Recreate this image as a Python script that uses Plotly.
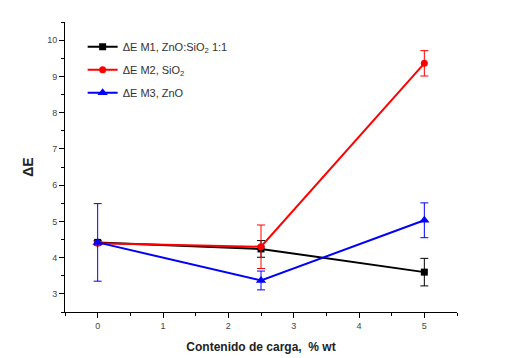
import plotly.graph_objects as go

x_vals = [0, 2.5, 5]
m1_vals = [4.42, 4.24, 3.6]
m1_err = [0.05, 0.23, 0.38]
m2_vals = [4.4, 4.3, 9.36]
m2_err = [0.05, 0.6, 0.35]
m3_vals = [4.42, 3.37, 5.03]
m3_err = [1.07, 0.26, 0.48]

names = ["ΔE M1, ZnO:SiO<sub>2</sub> 1:1", "ΔE M2, SiO<sub>2</sub>", "ΔE M3, ZnO"]
colors = ["#000000", "#ff0000", "#0000ff"]
symbols = ["square", "circle", "triangle-up"]
sizes = [7, 7, 9]

fig = go.Figure()
for i, (vals, err, name, c, s, sz) in enumerate(zip([m1_vals, m2_vals, m3_vals], [m1_err, m2_err, m3_err], names, colors, symbols, sizes)):
    fig.add_trace(go.Scatter(
        x=x_vals, y=vals, name=name, mode="lines+markers", legendgroup=f"g{i}",
        line=dict(color=c, width=2),
        marker=dict(symbol=s, size=sz, color=c),
        error_y=dict(type="data", array=err, visible=True, color=c, thickness=1, width=4),
    ))

fig.update_layout(
    width=516, height=358,
    margin=dict(l=65, r=59, t=22, b=46),
    paper_bgcolor="white", plot_bgcolor="white",
    font=dict(family="Liberation Sans, Arial", color="#444"),
    showlegend=True,
    legend=dict(x=0.045, y=0.965, xanchor="left", yanchor="top",
                bgcolor="rgba(0,0,0,0)", font=dict(size=11, color="#333"),
                tracegroupgap=4, itemwidth=30),
    xaxis=dict(range=[-0.5, 5.5], tickvals=[0, 1, 2, 3, 4, 5], showgrid=False, zeroline=False,
               automargin=False,
               showline=True, linecolor="black", linewidth=1, ticks="outside", ticklen=5,
               tickcolor="black", tickfont=dict(size=9, color="#444"),
               minor=dict(dtick=0.5, ticks="outside", ticklen=3, tickcolor="black"),
               title=dict(text="<b>Contenido de carga,  % wt</b>", font=dict(size=12, color="#222"), standoff=12)),
    yaxis=dict(range=[2.5, 10.5], tickvals=[3, 4, 5, 6, 7, 8, 9, 10], showgrid=False, zeroline=False,
               automargin=False,
               showline=True, linecolor="black", linewidth=1, ticks="outside", ticklen=5,
               tickcolor="black", tickfont=dict(size=9, color="#444"),
               minor=dict(dtick=0.5, ticks="outside", ticklen=3, tickcolor="black"),
               title=dict(text="<b>ΔE</b>", font=dict(size=14, color="#222"), standoff=10)),
)

fig.write_html("out.html", post_script="document.body.style.margin='0';",
               config={"displayModeBar": False})
